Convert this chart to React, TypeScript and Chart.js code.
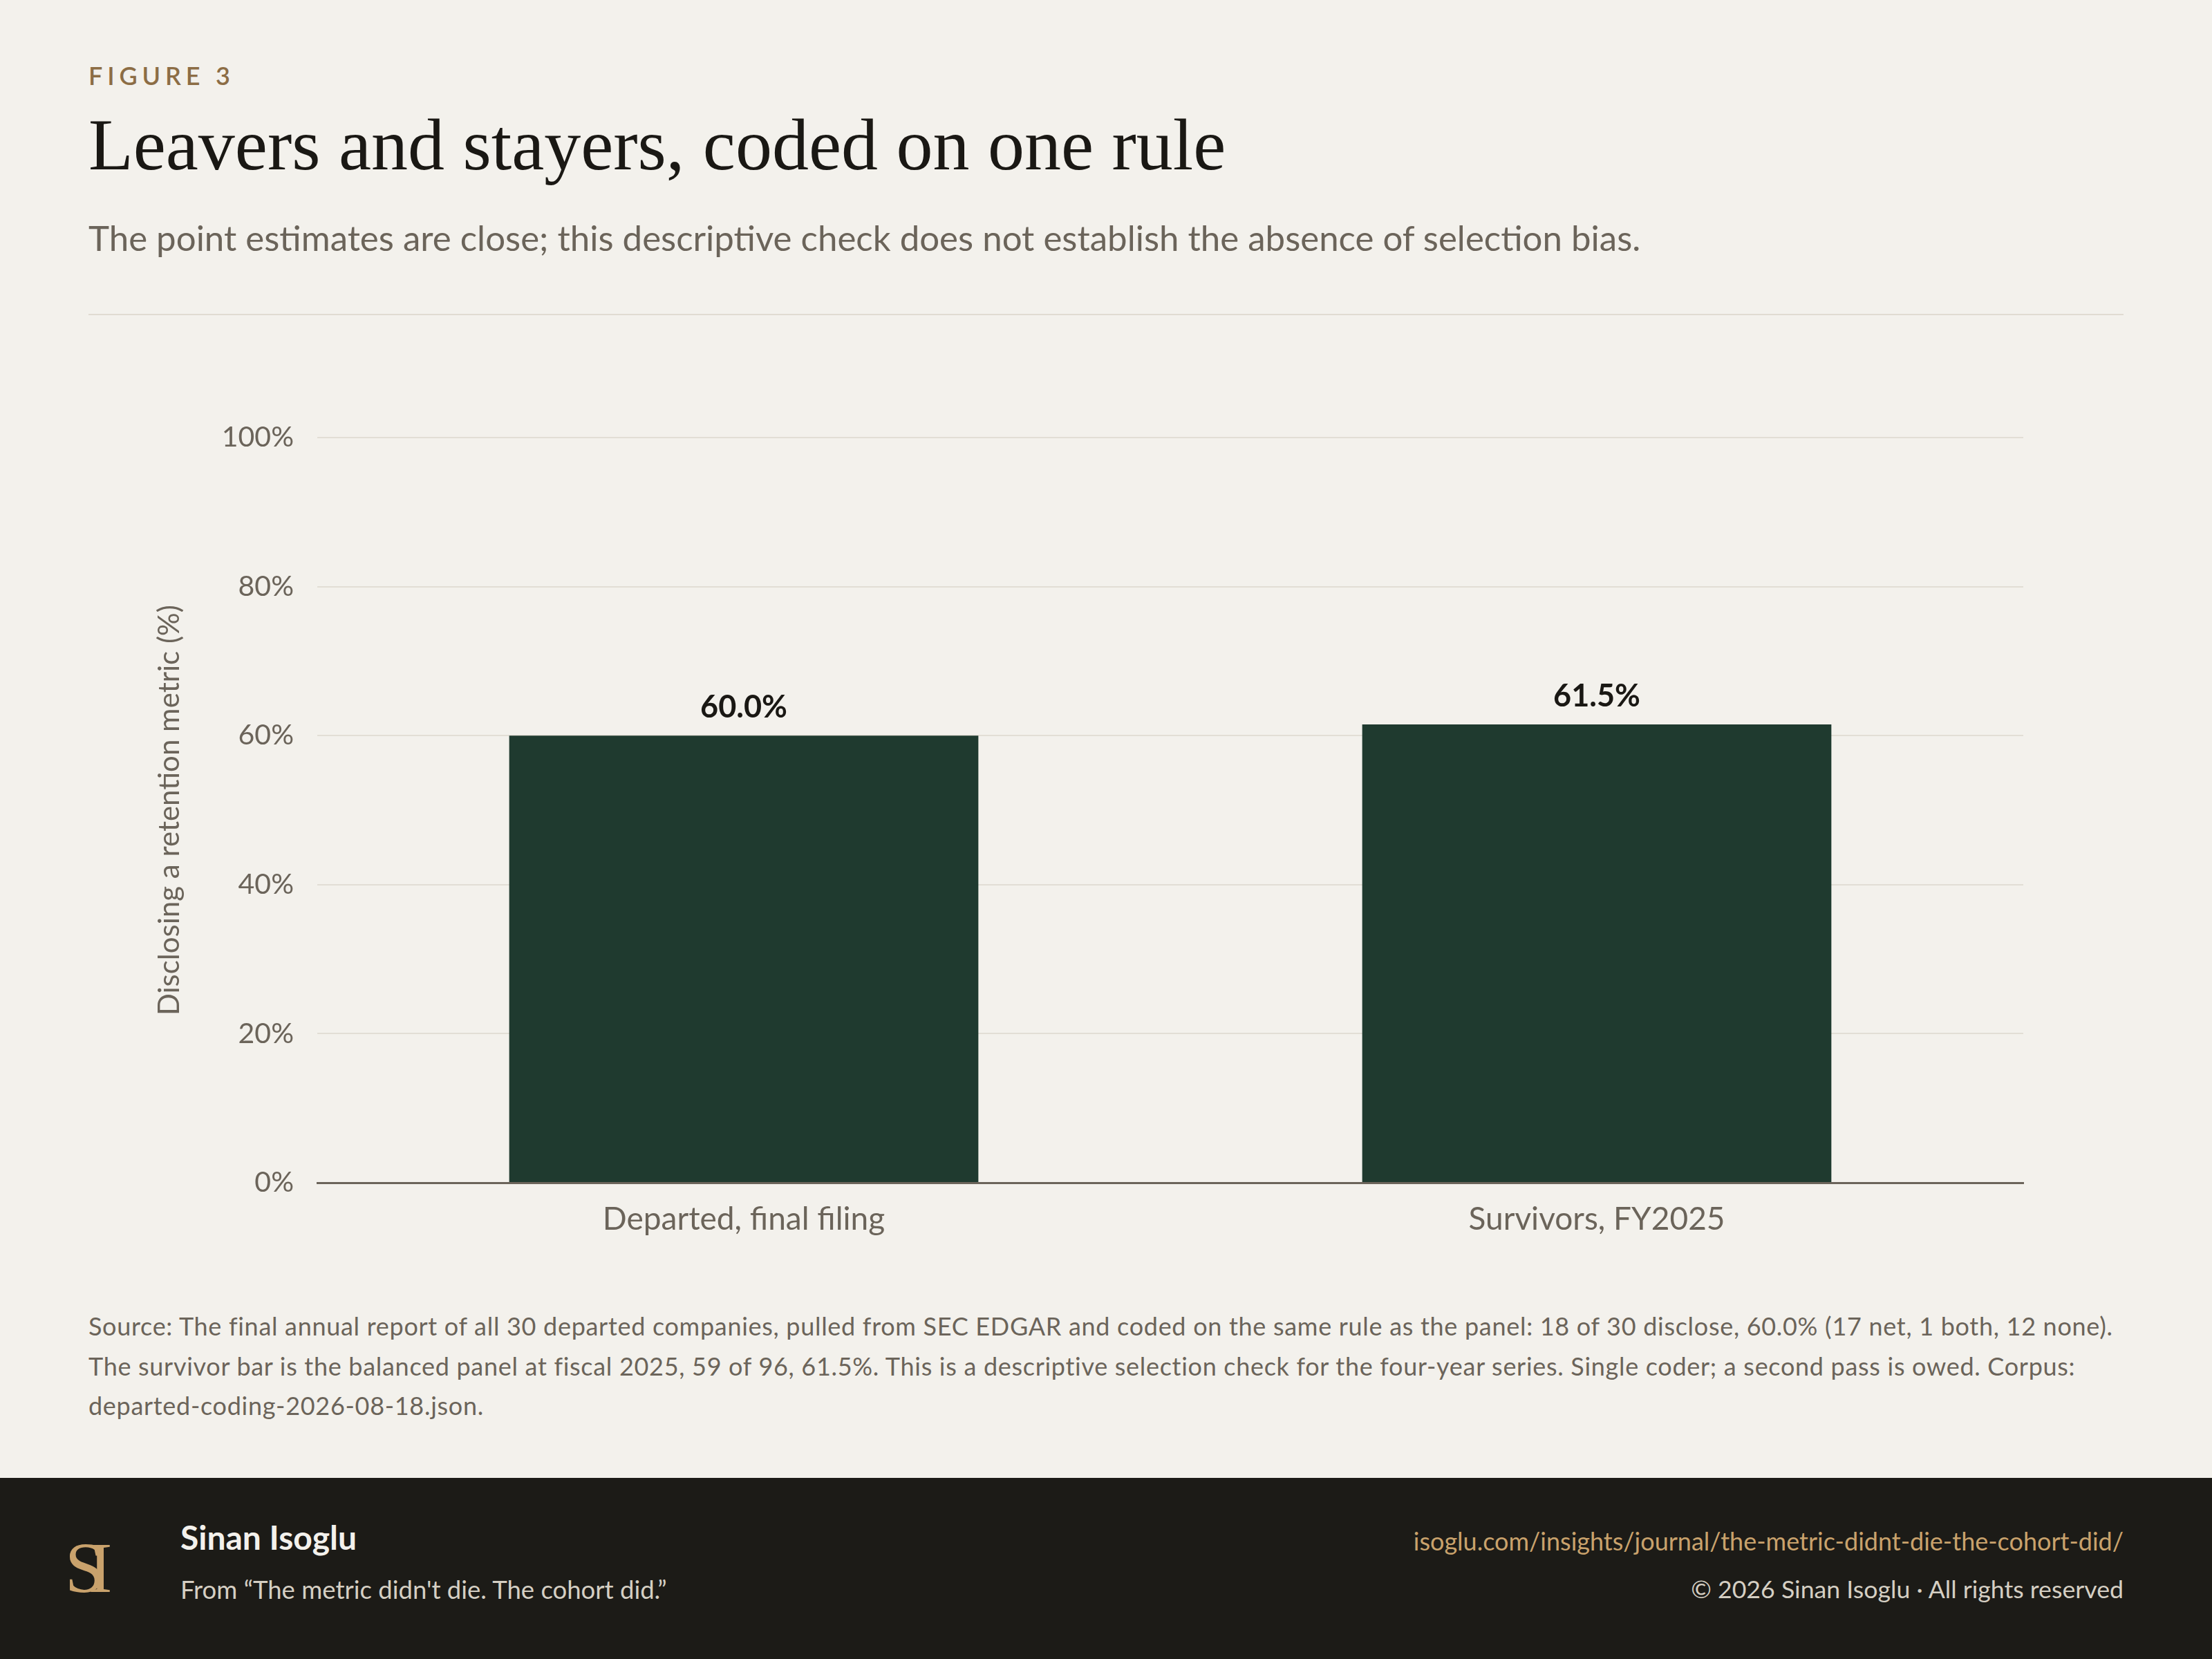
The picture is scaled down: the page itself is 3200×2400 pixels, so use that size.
import React, { useEffect, useRef } from 'react';
import Chart from 'chart.js/auto';

const categories = ['Departed, final filing', 'Survivors, FY2025'];
const disclosingPct = [60.0, 61.5];
const yMin = 0;
const yMax = 100;
const yStep = 20;

const SANS = 'Lato, "Noto Sans", sans-serif';
const SERIF = '"Liberation Serif", "DejaVu Serif", serif';
const MUTED = '#6b645a';

const sourceLines = [
  'Source: The final annual report of all 30 departed companies, pulled from SEC EDGAR and coded on the same rule as the panel: 18 of 30 disclose, 60.0% (17 net, 1 both, 12 none).',
  'The survivor bar is the balanced panel at fiscal 2025, 59 of 96, 61.5%. This is a descriptive selection check for the four-year series. Single coder; a second pass is owed. Corpus:',
  'departed-coding-2026-08-18.json.',
];

// draws the bold value above each bar
const valueLabels = {
  id: 'valueLabels',
  afterDatasetsDraw(chart: any) {
    const ctx = chart.ctx;
    const meta = chart.getDatasetMeta(0);
    ctx.save();
    ctx.font = `700 45px ${SANS}`;
    ctx.fillStyle = '#1a1814';
    ctx.textAlign = 'center';
    ctx.textBaseline = 'alphabetic';
    meta.data.forEach((bar: any, i: number) => {
      ctx.fillText(disclosingPct[i].toFixed(1) + '%', bar.x, bar.y - 26);
    });
    ctx.restore();
  },
};

const RetentionBars: React.FC = () => {
  const canvasRef = useRef<HTMLCanvasElement>(null);
  const chartRef = useRef<Chart<'bar'> | null>(null);

  useEffect(() => {
    if (!canvasRef.current) return;
    const ctx = canvasRef.current.getContext('2d');
    if (!ctx) return;
    if (chartRef.current) chartRef.current.destroy();

    chartRef.current = new Chart(ctx, {
      type: 'bar',
      data: {
        labels: categories,
        datasets: [
          {
            label: 'Disclosing a retention metric (%)',
            data: disclosingPct,
            backgroundColor: '#1f3a2f',
            borderWidth: 0,
            barPercentage: 0.55,
            categoryPercentage: 1.0,
          },
        ],
      },
      options: {
        animation: false,
        responsive: true,
        maintainAspectRatio: false,
        layout: { padding: { top: 73, right: 145, left: 0, bottom: 0 } },
        plugins: {
          legend: { display: false },
          tooltip: { enabled: false },
          title: { display: false },
        },
        scales: {
          x: {
            grid: { display: false, drawTicks: false },
            border: { display: true, color: MUTED, width: 3 },
            ticks: {
              color: MUTED,
              font: { family: SANS, size: 46 },
              padding: 26,
            },
            afterFit: (scale: any) => {
              scale.height = 149;
            },
          },
          y: {
            min: yMin,
            max: yMax,
            grid: { color: '#e2ded5', lineWidth: 2, drawTicks: false },
            border: { display: false },
            ticks: {
              stepSize: yStep,
              color: MUTED,
              font: { family: SANS, size: 41 },
              padding: 34,
              callback: (v: any) => v + '%',
            },
            title: {
              display: true,
              text: 'Disclosing a retention metric (%)',
              color: MUTED,
              font: { family: SANS, size: 42 },
              padding: { top: 92, bottom: 0 },
            },
            afterFit: (scale: any) => {
              scale.width = 331;
            },
          },
        },
      },
      plugins: [valueLabels],
    } as any);

    return () => {
      if (chartRef.current) {
        chartRef.current.destroy();
        chartRef.current = null;
      }
    };
  }, []);

  return <canvas ref={canvasRef} />;
};

const App: React.FC = () => {
  useEffect(() => {
    document.body.style.margin = '0';
    document.body.style.background = '#f3f1ec';
  }, []);

  const abs = (top: number, left: number, extra: React.CSSProperties = {}): React.CSSProperties => ({
    position: 'absolute',
    top,
    left,
    whiteSpace: 'nowrap',
    ...extra,
  });

  return (
    <div style={{ position: 'relative', width: 3200, height: 2400, background: '#f3f1ec', overflow: 'hidden', fontFamily: SANS }}>
      <div style={abs(91, 128, { fontSize: 36, lineHeight: '36px', letterSpacing: '0.19em', color: '#8c6d45', fontWeight: 600 })}>
        FIGURE 3
      </div>
      <div style={abs(157, 128, { fontFamily: SERIF, fontSize: 106, lineHeight: '106px', color: '#1a1814' })}>
        Leavers and stayers, coded on one rule
      </div>
      <div style={abs(318, 128, { fontSize: 51, lineHeight: '51px', color: MUTED })}>
        The point estimates are close; this descriptive check does not establish the absence of selection bias.
      </div>
      <div style={{ position: 'absolute', top: 454, left: 128, width: 2944, height: 2, background: '#e0dbd2' }} />

      <div style={{ position: 'absolute', top: 560, left: 128, width: 2944, height: 1300 }}>
        <RetentionBars />
      </div>

      <div style={abs(1890, 128, { fontSize: 36, lineHeight: '57.5px', letterSpacing: '0.7px', color: MUTED })}>
        {sourceLines.map((l, i) => (
          <div key={i}>{l}</div>
        ))}
      </div>

      <div style={{ position: 'absolute', top: 2138, left: 0, width: 3200, height: 262, background: '#1c1b17' }}>
        <div style={abs(78, 94, { fontFamily: SERIF, fontSize: 104, lineHeight: '104px', color: '#c9a26c', letterSpacing: '-24px' })}>
          SI
        </div>
        <div style={abs(62, 261, { fontSize: 48, lineHeight: '48px', fontWeight: 700, color: '#f3f1ec' })}>
          Sinan Isoglu
        </div>
        <div style={abs(143, 261, { fontSize: 36.5, lineHeight: '36px', color: '#d5cfc3' })}>
          From “The metric didn't die. The cohort did.”
        </div>
        <div style={abs(73, 0, { right: 128, left: 'auto', fontSize: 36, lineHeight: '36px', color: '#c9a26c', textAlign: 'right' })}>
          isoglu.com/insights/journal/the-metric-didnt-die-the-cohort-did/
        </div>
        <div style={abs(143, 0, { right: 128, left: 'auto', fontSize: 35.7, lineHeight: '36px', color: '#d5cfc3', textAlign: 'right' })}>
          © 2026 Sinan Isoglu · All rights reserved
        </div>
      </div>
    </div>
  );
};

export default App;
